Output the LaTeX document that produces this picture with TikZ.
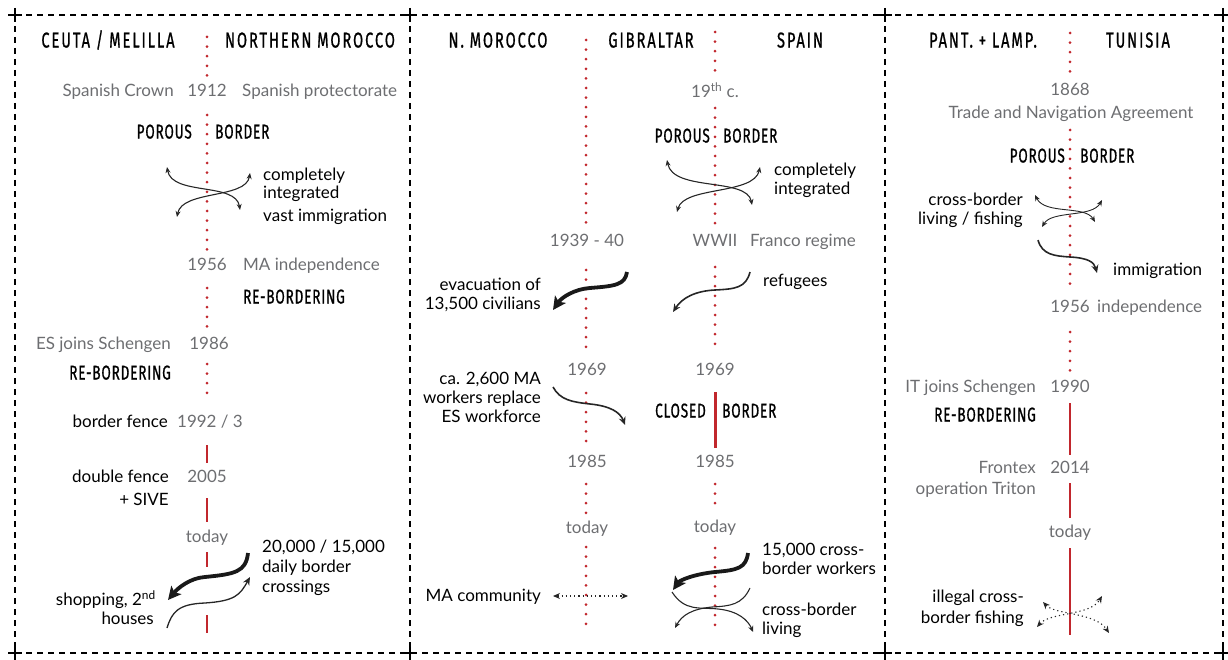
\documentclass[tikz,border=0pt]{standalone}
\usepackage{fontspec}
\setmainfont{Lato}
\newfontfamily\ttlfont[FakeStretch=0.68,LetterSpace=9,FakeBold=0.8]{Fira Sans}
\newfontfamily\subfont[FakeStretch=0.68,LetterSpace=4,FakeBold=0.8]{Fira Sans}
\usetikzlibrary{arrows.meta}
\definecolor{bred}{HTML}{C1272D}
\definecolor{tgray}{HTML}{6D6E71}
\tikzset{
  frame/.style={draw=black,line width=1.2pt,dash pattern=on 6pt off 5pt},
  crossmark/.style={draw=black,line width=1.5pt},
  bdot/.style={draw=bred,line width=3pt,line cap=round,dash pattern=on 0pt off 9.6pt},
  bsolid/.style={draw=bred,line width=2.4pt},
  ttl/.style={inner sep=0pt,anchor=mid,yshift=-3pt,font=\ttlfont\fontsize{21.5}{24}\selectfont},
  sub/.style={inner sep=0pt,yshift=-3pt,font=\subfont\fontsize{20}{23}\selectfont},
  gr/.style={inner sep=0pt,yshift=-3pt,text=tgray,font=\fontsize{17}{20}\selectfont},
  bk/.style={inner sep=0pt,yshift=-3pt,text=black,font=\fontsize{17}{20}\selectfont},
  L/.style={anchor=mid west},
  R/.style={anchor=mid east},
  C/.style={anchor=mid},
  thin/.style={draw=black!85,line width=1.1pt,{Stealth[length=6pt,width=5pt]}-{Stealth[length=6pt,width=5pt]}},
  thinone/.style={draw=black!85,line width=1.1pt,-{Stealth[length=6pt,width=5pt]}},
  medarr/.style={draw=black!85,line width=1.6pt,-{Stealth[length=8pt,width=7pt]}},
  thick/.style={draw=black!90,line width=3.8pt,-{Stealth[length=13pt,width=13pt,inset=3pt]}},
  dotarr/.style={draw=black!85,line width=1.1pt,dash pattern=on 1.2pt off 3pt,{Stealth[length=7pt,width=6pt]}-{Stealth[length=7pt,width=6pt]}},
}
\begin{document}
\begin{tikzpicture}[x=1pt,y=-1pt]
\useasboundingbox (0,0) rectangle (1228,660);
% frame
\draw[frame] (15,15) -- (1223,15);
\draw[frame] (15,653) -- (1223,653);
\foreach \xx in {15,410,885,1223} {
  \draw[frame] (\xx,15) -- (\xx,653);
  \foreach \yy in {15,653} {
    \draw[crossmark] (\xx-7,\yy) -- (\xx+7,\yy) (\xx,\yy-7) -- (\xx,\yy+7);
  }
}

% ================= Panel 1 =================
\node[ttl] (p1t1) at (108,42) {CEUTA / MELILLA};
\node[ttl] (p1t2) at (310,42) {NORTHERN MOROCCO};
\draw[bdot] (207,37) -- (207,78);
\node[gr,C] (p1y1912) at (207,91) {1912};
\node[gr,R] (p1crown) at (174,91) {Spanish Crown};
\node[gr,L] (p1prot) at (242,91) {Spanish protectorate};
\draw[bdot] (207,115) -- (207,253);
\node[sub,R] (p1por) at (192,133) {POROUS};
\node[sub,L] (p1bor) at (215,133) {BORDER};
\coordinate (p1a1) at (167,167); \coordinate (p1a2) at (240,210);
\coordinate (p1b1) at (177,217); \coordinate (p1b2) at (250,173);
\draw[thin] (p1a1) .. controls (172,196) and (236,182) .. (p1a2);
\draw[thin] (p1b1) .. controls (182,190) and (246,199) .. (p1b2);
\node[bk,L] (p1ci1) at (263,175) {completely};
\node[bk,L] (p1ci2) at (263,193) {integrated};
\node[bk,L] (p1vi) at (263,216) {vast immigration};
\node[gr,C] (p1y1956) at (207,265) {1956};
\node[gr,L] (p1maind) at (243,265) {MA independence};
\draw[bdot] (207,288) -- (207,328);
\node[sub,L] (p1reb1) at (243,298) {RE-BORDERING};
\node[gr,R] (p1esj) at (171,344) {ES joins Schengen};
\node[gr,C] (p1y1986) at (209,344) {1986};
\node[sub,R] (p1reb2) at (171,374) {RE-BORDERING};
\draw[bdot] (207,364) -- (207,397);
\node[bk,R] (p1bf) at (168,422) {border fence};
\node[gr,C] (p1y1992) at (210,422) {1992 / 3};
\draw[bsolid] (207,445) -- (207,463);
\node[gr,C] (p1y2005) at (207,477) {2005};
\node[bk,R] (p1df1) at (169,477) {double fence};
\node[bk,R] (p1df2) at (169,500) {+ SIVE};
\draw[bsolid] (207,498) -- (207,522);
\node[gr,C] (p1today) at (207,537) {today};
\draw[bsolid] (207,552) -- (207,567);
\draw[bsolid] (207,615) -- (207,633);
\node[bk,L] (p1dc1) at (262,547) {20,000 / 15,000};
\node[bk,L] (p1dc2) at (262,567) {daily border};
\node[bk,L] (p1dc3) at (262,587) {crossings};
\node[bk,R] (p1sh1) at (156,600) {shopping, 2\textsuperscript{nd}};
\node[bk,R] (p1sh2) at (154,619) {houses};
\coordinate (p1k1) at (248,553); \coordinate (p1k2) at (168,600);
\draw[thick] (p1k1) .. controls (246,572) and (235,574) .. (205,577) .. controls (190,578) and (178,588) .. (p1k2);
\coordinate (p1m1) at (167,628); \coordinate (p1m2) at (250,577);
\draw[medarr,line width=1.3pt] (p1m1) .. controls (172,612) and (178,604) .. (205,603) .. controls (235,601) and (240,595) .. (p1m2);

% ================= Panel 2 =================
\node[ttl] (p2t1) at (498,42) {N. MOROCCO};
\node[ttl] (p2t2) at (651,42) {GIBRALTAR};
\node[ttl] (p2t3) at (800,42) {SPAIN};
% line at x=586
\draw[bdot] (586,40) -- (586,226);
\node[gr,C] (p2y1939) at (587,241) {1939 - 40};
\draw[bdot] (586,270) -- (586,355);
\node[gr,C] (p2y1969a) at (587,370) {1969};
\draw[bdot] (586,393) -- (586,446);
\node[gr,C] (p2y1985a) at (587,462) {1985};
\draw[bdot] (586,484) -- (586,515);
\node[gr,C] (p2todaya) at (587,528) {today};
\draw[bdot] (586,547) -- (586,632);
% line at x=715
\draw[bdot] (715,32) -- (715,72);
\node[gr,C] (p2y19) at (715,92) {19\textsuperscript{th} c.};
\draw[bdot] (715,108) -- (715,226);
\node[gr,C] (p2ww) at (715,241) {WWII};
\node[gr,L] (p2franco) at (750,241) {Franco regime};
\draw[bdot] (715,267) -- (715,345);
\node[gr,C] (p2y1969b) at (715,370) {1969};
\draw[bsolid,line width=3pt] (715,392) -- (715,448);
\node[gr,C] (p2y1985b) at (715,462) {1985};
\draw[bdot] (715,484) -- (715,510);
\node[gr,C] (p2todayb) at (715,527) {today};
\draw[bdot] (715,548) -- (715,633);
\node[sub,R] (p2por) at (710,137) {POROUS};
\node[sub,L] (p2bor) at (723,137) {BORDER};
\coordinate (p2a1) at (667,160); \coordinate (p2a2) at (752,205);
\coordinate (p2b1) at (677,212); \coordinate (p2b2) at (760,167);
\draw[thin] (p2a1) .. controls (673,192) and (747,177) .. (p2a2);
\draw[thin] (p2b1) .. controls (684,186) and (754,195) .. (p2b2);
\node[bk,L] (p2ci1) at (774,170) {completely};
\node[bk,L] (p2ci2) at (774,189) {integrated};
\coordinate (p2e1) at (627,272); \coordinate (p2e2) at (553,310);
\draw[thick] (p2e1) .. controls (625,285) and (615,286) .. (590,288) .. controls (575,289) and (562,297) .. (p2e2);
\node[bk,R] (p2ev1) at (541,285) {evacuation of};
\node[bk,R] (p2ev2) at (541,304) {13,500 civilians};
\coordinate (p2r1) at (750,272); \coordinate (p2r2) at (673,312);
\draw[medarr] (p2r1) .. controls (746,288) and (735,289) .. (715,290) .. controls (695,291) and (682,298) .. (p2r2);
\node[bk,L] (p2ref) at (763,281) {refugees};
\node[bk,R] (p2ca1) at (541,379) {ca. 2,600 MA};
\node[bk,R] (p2ca2) at (541,398) {workers replace};
\node[bk,R] (p2ca3) at (541,417) {ES workforce};
\coordinate (p2w1) at (553,387); \coordinate (p2w2) at (625,425);
\draw[medarr] (p2w1) .. controls (560,400) and (572,402) .. (590,404) .. controls (610,406) and (620,412) .. (p2w2);
\node[sub,R] (p2clo) at (706,412) {CLOSED};
\node[sub,L] (p2bor2) at (722,412) {BORDER};
\node[bk,R] (p2mac) at (541,596) {MA community};
\coordinate (p2d1) at (553,596); \coordinate (p2d2) at (628,596);
\draw[dotarr] (p2d1) -- (p2d2);
\coordinate (p2k1) at (748,553); \coordinate (p2k2) at (673,590);
\draw[thick] (p2k1) .. controls (746,568) and (738,570) .. (715,572) .. controls (695,574) and (680,580) .. (p2k2);
\node[bk,L] (p2cw1) at (762,550) {15,000 cross-};
\node[bk,L] (p2cw2) at (762,569) {border workers};
\coordinate (p2c1) at (672,592); \coordinate (p2c2) at (753,632);
\draw[thinone] (p2c1) .. controls (685,612) and (700,607) .. (718,609) .. controls (738,611) and (748,620) .. (p2c2);
\coordinate (p2f1) at (750,588); \coordinate (p2f2) at (675,628);
\draw[thinone] (p2f1) .. controls (742,605) and (730,606) .. (712,607) .. controls (692,609) and (682,615) .. (p2f2);
\node[bk,L] (p2cl1) at (762,610) {cross-border};
\node[bk,L] (p2cl2) at (762,629) {living};

% ================= Panel 3 =================
\node[ttl] (p3t1) at (983,42) {PANT. + LAMP.};
\node[ttl] (p3t2) at (1138,42) {TUNISIA};
\draw[bdot] (1070,33) -- (1070,72);
\node[gr,C] (p3y1868) at (1070,90) {1868};
\node[gr,C] (p3trade) at (1071,113) {Trade and Navigation Agreement};
\draw[bdot] (1070,130) -- (1070,292);
\node[sub,R] (p3por) at (1065,157) {POROUS};
\node[sub,L] (p3bor) at (1080,157) {BORDER};
\coordinate (p3a1) at (1035,195); \coordinate (p3a2) at (1095,222);
\coordinate (p3b1) at (1042,227); \coordinate (p3b2) at (1102,200);
\draw[thin,line width=0.9pt] (p3a1) .. controls (1045,215) and (1085,205) .. (p3a2);
\draw[thin,line width=0.9pt] (p3b1) .. controls (1052,210) and (1092,218) .. (p3b2);
\node[bk,R] (p3cb1) at (1023,200) {cross-border};
\node[bk,R] (p3cb2) at (1023,219) {living / fishing};
\coordinate (p3i1) at (1038,240); \coordinate (p3i2) at (1097,273);
\draw[medarr] (p3i1) .. controls (1042,255) and (1055,256) .. (1070,257) .. controls (1088,258) and (1094,262) .. (p3i2);
\node[bk,L] (p3imm) at (1113,270) {immigration};
\node[gr,C] (p3y1956) at (1070,307) {1956};
\node[gr,L] (p3ind) at (1097,307) {independence};
\draw[bdot] (1070,332) -- (1070,372);
\node[gr,C] (p3y1990) at (1070,387) {1990};
\node[gr,R] (p3itj) at (1036,387) {IT joins Schengen};
\node[sub,R] (p3reb) at (1036,416) {RE-BORDERING};
\draw[bsolid,line width=1.5pt] (1070,403) -- (1070,455);
\node[gr,C] (p3y2014) at (1070,468) {2014};
\node[gr,R] (p3fr1) at (1036,468) {Frontex};
\node[gr,R] (p3fr2) at (1036,489) {operation Triton};
\draw[bsolid,line width=1.5pt] (1070,483) -- (1070,518);
\node[gr,C] (p3today) at (1070,532) {today};
\draw[bsolid,line width=1.5pt] (1070,548) -- (1070,635);
\node[bk,R] (p3il1) at (1024,597) {illegal cross-};
\node[bk,R] (p3il2) at (1024,618) {border fishing};
\coordinate (p3g1) at (1043,602); \coordinate (p3g2) at (1109,633);
\coordinate (p3h1) at (1037,627); \coordinate (p3h2) at (1102,596);
\draw[dotarr] (p3g1) .. controls (1055,615) and (1095,612) .. (p3g2);
\draw[dotarr] (p3h1) .. controls (1050,612) and (1090,616) .. (p3h2);
\end{tikzpicture}
\end{document}
